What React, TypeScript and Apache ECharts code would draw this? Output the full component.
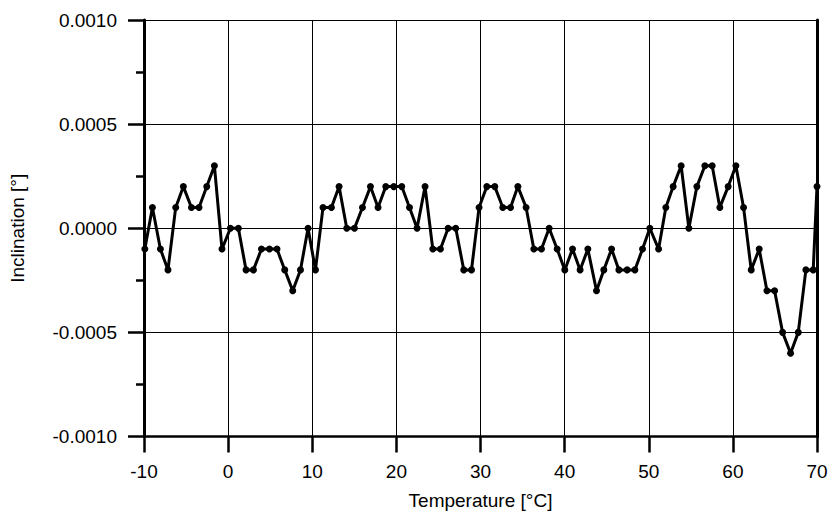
import React, { useEffect, useRef } from "react";
import * as echarts from "echarts";

const temperatures: number[] = [
  -9.9, -9.0, -8.05, -7.15, -6.23, -5.32, -4.36, -3.46, -2.54, -1.63,
  -0.73, 0.27, 1.22, 2.13, 3.01, 3.96, 4.91, 5.81, 6.73, 7.68,
  8.6, 9.5, 10.38, 11.28, 12.28, 13.19, 14.1, 15.02, 15.97, 16.92,
  17.82, 18.74, 19.69, 20.64, 21.56, 22.46, 23.41, 24.33, 25.24, 26.15,
  27.06, 28.01, 28.93, 29.83, 30.75, 31.7, 32.65, 33.57, 34.44, 35.42,
  36.34, 37.25, 38.16, 39.11, 40.02, 40.94, 41.84, 42.76, 43.79, 44.66,
  45.58, 46.45, 47.43, 48.35, 49.26, 50.13, 51.17, 52.03, 52.9, 53.85,
  54.77, 55.72, 56.67, 57.54, 58.45, 59.44, 60.36, 61.27, 62.18, 63.13,
  64.05, 64.96, 65.91, 66.86, 67.77, 68.68, 69.55, 70.0,
];

const inclination: number[] = [
  -0.0001, 0.0001, -0.0001, -0.0002, 0.0001, 0.0002, 0.0001, 0.0001, 0.0002, 0.0003,
  -0.0001, 0.0, 0.0, -0.0002, -0.0002, -0.0001, -0.0001, -0.0001, -0.0002, -0.0003,
  -0.0002, 0.0, -0.0002, 0.0001, 0.0001, 0.0002, 0.0, 0.0, 0.0001, 0.0002,
  0.0001, 0.0002, 0.0002, 0.0002, 0.0001, 0.0, 0.0002, -0.0001, -0.0001, 0.0,
  0.0, -0.0002, -0.0002, 0.0001, 0.0002, 0.0002, 0.0001, 0.0001, 0.0002, 0.0001,
  -0.0001, -0.0001, 0.0, -0.0001, -0.0002, -0.0001, -0.0002, -0.0001, -0.0003, -0.0002,
  -0.0001, -0.0002, -0.0002, -0.0002, -0.0001, 0.0, -0.0001, 0.0001, 0.0002, 0.0003,
  0.0, 0.0002, 0.0003, 0.0003, 0.0001, 0.0002, 0.0003, 0.0001, -0.0002, -0.0001,
  -0.0003, -0.0003, -0.0005, -0.0006, -0.0005, -0.0002, -0.0002, 0.0002,
];

const xTicks = { min: -10, max: 70, step: 10 };
const yTicks = { min: -0.001, max: 0.001, step: 0.0005 };

const xName = "Temperature [°C]";
const yName = "Inclination [°]";

export default function App() {
  const ref = useRef<HTMLDivElement>(null);

  useEffect(() => {
    if (!ref.current) return;
    const chart = echarts.init(ref.current, null, { renderer: "svg" });
    const font = "Liberation Sans, Arial, Helvetica, sans-serif";
    const fs = 19;
    const data = temperatures.map((t, i) => [t, inclination[i]]);
    chart.setOption({
      animation: false,
      backgroundColor: "#ffffff",
      textStyle: { fontFamily: font },
      grid: {
        left: 144,
        right: 13,
        top: 20,
        bottom: 76.5,
        containLabel: false,
        outerBoundsMode: "none",
      },
      xAxis: {
        type: "value",
        min: xTicks.min,
        max: xTicks.max,
        interval: xTicks.step,
        name: xName,
        nameLocation: "middle",
        nameGap: 54,
        nameTextStyle: { fontSize: fs, color: "#000", fontFamily: font },
        axisLine: { show: true, onZero: false, lineStyle: { color: "#000", width: 2.5 } },
        axisTick: { show: true, inside: false, length: 16, lineStyle: { color: "#000", width: 2.5 } },
        axisLabel: { fontSize: fs, color: "#000", margin: 25, fontFamily: font },
        splitLine: { show: true, lineStyle: { color: "#000", width: 1 } },
      },
      yAxis: [
        {
          type: "value",
          min: yTicks.min,
          max: yTicks.max,
          interval: yTicks.step,
          name: yName,
          nameLocation: "middle",
          nameGap: 117,
          nameTextStyle: { fontSize: fs, color: "#000", fontFamily: font },
          axisLine: { show: true, onZero: false, lineStyle: { color: "#000", width: 3 } },
          axisTick: { show: true, inside: false, length: 16, lineStyle: { color: "#000", width: 2.5 } },
          minorTick: { show: true, splitNumber: 2, length: 8, lineStyle: { color: "#000", width: 2.5 } },
          axisLabel: {
            fontSize: fs,
            color: "#000",
            margin: 27,
            fontFamily: font,
            formatter: (v: number) => (Math.abs(v) < 1e-12 ? "0.0000" : v.toFixed(4)),
          },
          splitLine: { show: true, lineStyle: { color: "#000", width: 1 } },
        },
        {
          type: "value",
          position: "right",
          min: yTicks.min,
          max: yTicks.max,
          interval: yTicks.step,
          axisLine: { show: true, onZero: false, lineStyle: { color: "#000", width: 3 } },
          axisTick: { show: false },
          axisLabel: { show: false },
          splitLine: { show: false },
        },
      ],
      series: [
        {
          type: "line",
          data,
          yAxisIndex: 0,
          symbol: "circle",
          symbolSize: 7,
          showSymbol: true,
          lineStyle: { color: "#000", width: 3 },
          itemStyle: { color: "#000" },
          clip: true,
        },
      ],
    });
    return () => chart.dispose();
  }, []);

  return (
    <div
      ref={ref}
      style={{ position: "absolute", left: 0, top: 0, width: 830, height: 513 }}
    />
  );
}
